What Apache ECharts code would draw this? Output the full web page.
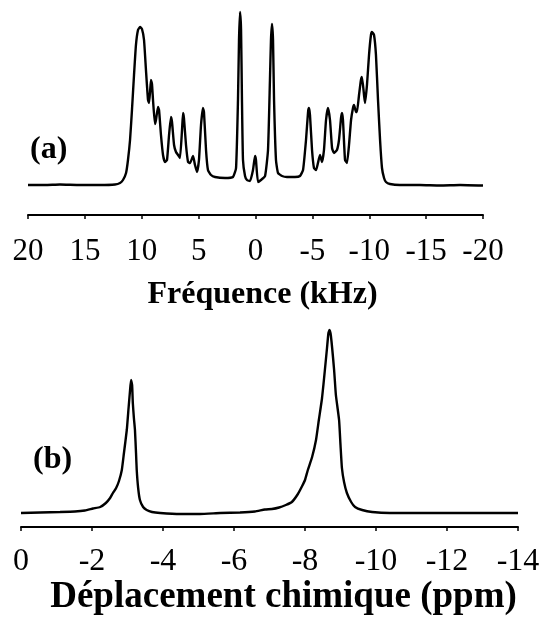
<!DOCTYPE html>
<html>
<head>
<meta charset="utf-8">
<script src="https://cdn.jsdelivr.net/npm/echarts@6/dist/echarts.min.js"></script>
<style>
html,body{margin:0;padding:0;background:#fff;}
#c{width:545px;height:621px;}
</style>
</head>
<body>
<div id="c"></div>
<script>
// Panel (a): frequency (kHz) vs intensity (arb. units)
var freqA = [
  20.0, 18.51, 17.19, 15.43, 13.67, 12.35, 11.91, 11.65, 11.38, 11.21,
  11.03, 10.86, 10.68, 10.51, 10.33, 10.15, 9.98, 9.80, 9.63, 9.45,
  9.36, 9.27, 9.19, 9.10, 9.01, 8.84, 8.75, 8.57, 8.48, 8.31,
  8.13, 7.96, 7.78, 7.60, 7.43, 7.34, 7.16, 6.99, 6.81, 6.64,
  6.46, 6.37, 6.29, 6.11, 5.93, 5.76, 5.49, 5.32, 5.14, 4.97,
  4.79, 4.62, 4.53, 4.35, 4.18, 3.91, 3.56, 2.68, 1.98, 1.71,
  1.54, 1.45, 1.36, 1.27, 1.19, 1.10, 0.92, 0.75, 0.48, 0.22,
  0.04, -0.04, -0.22, -0.48, -0.84, -1.10, -1.27, -1.36, -1.45, -1.54,
  -1.63, -1.80, -1.98, -2.33, -2.77, -3.47, -3.91, -4.18, -4.44, -4.62,
  -4.70, -4.79, -4.97, -5.14, -5.32, -5.49, -5.67, -5.85, -6.02, -6.20,
  -6.37, -6.55, -6.73, -6.90, -7.16, -7.34, -7.52, -7.60, -7.69, -7.87,
  -8.04, -8.22, -8.40, -8.57, -8.66, -8.84, -8.92, -9.10, -9.27, -9.36,
  -9.54, -9.63, -9.80, -9.98, -10.15, -10.24, -10.42, -10.59, -10.77, -10.95,
  -11.12, -11.30, -11.47, -11.82, -12.70, -14.46, -16.22, -17.98, -20.0
];
var intensA = [
  0, 0, 0.5, 0, 0, 0.5, 2, 5, 12, 25,
  45, 75, 110, 140, 155, 158, 156, 145, 115, 85,
  82, 93, 105, 101, 85, 61, 65, 78, 75, 50,
  30, 23, 25, 50, 68, 63, 40, 33, 30, 27,
  55, 72, 67, 40, 23, 22, 29, 20, 13, 25,
  60, 77, 73, 35, 15, 10, 8, 7, 8, 17,
  85, 145, 173, 155, 85, 25, 9, 5, 4, 15,
  29, 25, 3, 5, 9, 35, 105, 145, 161, 145,
  85, 25, 12, 9, 8, 8, 9, 15, 45, 73,
  77, 70, 35, 17, 15, 22, 30, 23, 35, 65,
  77, 65, 37, 32, 35, 45, 67, 72, 65, 25,
  22, 40, 65, 77, 80, 73, 73, 90, 105, 108,
  90, 82, 100, 130, 150, 153, 150, 130, 85, 45,
  17, 7, 3, 1, 0, 0, -0.5, 0, -0.5
];
var ticksA = [20, 15, 10, 5, 0, -5, -10, -15, -20];

// Panel (b): chemical shift (ppm) vs intensity (arb. units)
var shiftB = [
  0, -0.54, -1.10, -1.52, -1.80, -2.03, -2.23, -2.39, -2.51, -2.59,
  -2.68, -2.76, -2.84, -2.90, -2.98, -3.03, -3.07, -3.10, -3.13, -3.15,
  -3.18, -3.21, -3.24, -3.26, -3.30, -3.35, -3.44, -3.54, -3.69, -3.92,
  -4.48, -5.04, -5.61, -6.17, -6.59, -6.87, -7.07, -7.27, -7.46, -7.63,
  -7.80, -7.92, -8.00, -8.08, -8.20, -8.31, -8.39, -8.48, -8.56, -8.62,
  -8.66, -8.69, -8.73, -8.82, -8.87, -8.96, -9.00, -9.04, -9.10, -9.18,
  -9.30, -9.41, -9.61, -9.89, -10.39, -11.24, -12.08, -12.93, -13.49, -14.0
];
var intensB = [
  0, 0.5, 1, 1.5, 2.5, 4.5, 6, 10, 15, 20,
  25, 32, 43, 60, 83, 105, 122, 133, 128, 110,
  95, 83, 60, 43, 25, 13, 6, 3, 1, 0,
  -1, -1, 0, 0.5, 1.5, 3.5, 4, 5.5, 8, 11,
  19, 27, 33, 43, 56, 73, 93, 115, 143, 165,
  180, 183, 177, 143, 118, 93, 68, 45, 31, 20,
  11, 6, 3, 1, 0, 0, 0, 0, 0, 0
];
var ticksB = [0, -2, -4, -6, -8, -10, -12, -14];

var titleA = 'Fréquence (kHz)';
var titleB = 'Déplacement chimique (ppm)';
var labelA = '(a)';
var labelB = '(b)';

function pairs(xs, ys) {
  var out = [];
  for (var i = 0; i < xs.length; i++) out.push([xs[i], ys[i]]);
  return out;
}

var serif = "'Liberation Serif', 'Times New Roman', serif";
var chart = echarts.init(document.getElementById('c'), null, {renderer: 'canvas'});

function xAxisCfg(idx, mn, mx, step, name, nameSize, labelSize, margin, gap, padLeft) {
  return {
    gridIndex: idx, type: 'value', min: mn, max: mx, interval: step, inverse: true,
    name: name, nameLocation: 'middle', nameGap: gap,
    nameTextStyle: {fontFamily: serif, fontWeight: 'bold', fontSize: nameSize, color: '#000', padding: [0, 0, 0, padLeft]},
    axisLine: {show: true, onZero: false, lineStyle: {color: '#000', width: 2}},
    axisTick: {show: true, inside: false, length: 4, lineStyle: {color: '#000', width: 1.5}},
    axisLabel: {show: true, margin: margin, fontFamily: serif, fontSize: labelSize, color: '#000',
      showMinLabel: true, showMaxLabel: true, hideOverlap: false},
    splitLine: {show: false}
  };
}

chart.setOption({
  backgroundColor: '#fff',
  animation: false,
  grid: [
    {left: 28, right: 62, top: 12, bottom: 406},
    {left: 21, right: 27, top: 330, bottom: 94}
  ],
  xAxis: [
    xAxisCfg(0, -20, 20, 5, titleA, 32, 31, 21, 64, 14),
    xAxisCfg(1, -14, 0, 2, titleB, 37, 32, 19, 49, 28)
  ],
  yAxis: [
    {gridIndex: 0, type: 'value', min: -30, max: 173, show: false, splitLine: {show: false}},
    {gridIndex: 1, type: 'value', min: -14, max: 183, show: false, splitLine: {show: false}}
  ],
  graphic: [
    {type: 'text', left: 30, top: 134, style: {text: labelA, font: "bold 32px 'Liberation Serif', serif", fill: '#000'}},
    {type: 'text', left: 33, top: 444, style: {text: labelB, font: "bold 32px 'Liberation Serif', serif", fill: '#000'}}
  ],
  series: [
    {type: 'line', xAxisIndex: 0, yAxisIndex: 0, data: pairs(freqA, intensA), showSymbol: false, clip: false,
      lineStyle: {color: '#000', width: 2.4}, smooth: 0.15},
    {type: 'line', xAxisIndex: 1, yAxisIndex: 1, data: pairs(shiftB, intensB), showSymbol: false, clip: false,
      lineStyle: {color: '#000', width: 2.4}, smooth: 0.15}
  ]
});
</script>
</body>
</html>
